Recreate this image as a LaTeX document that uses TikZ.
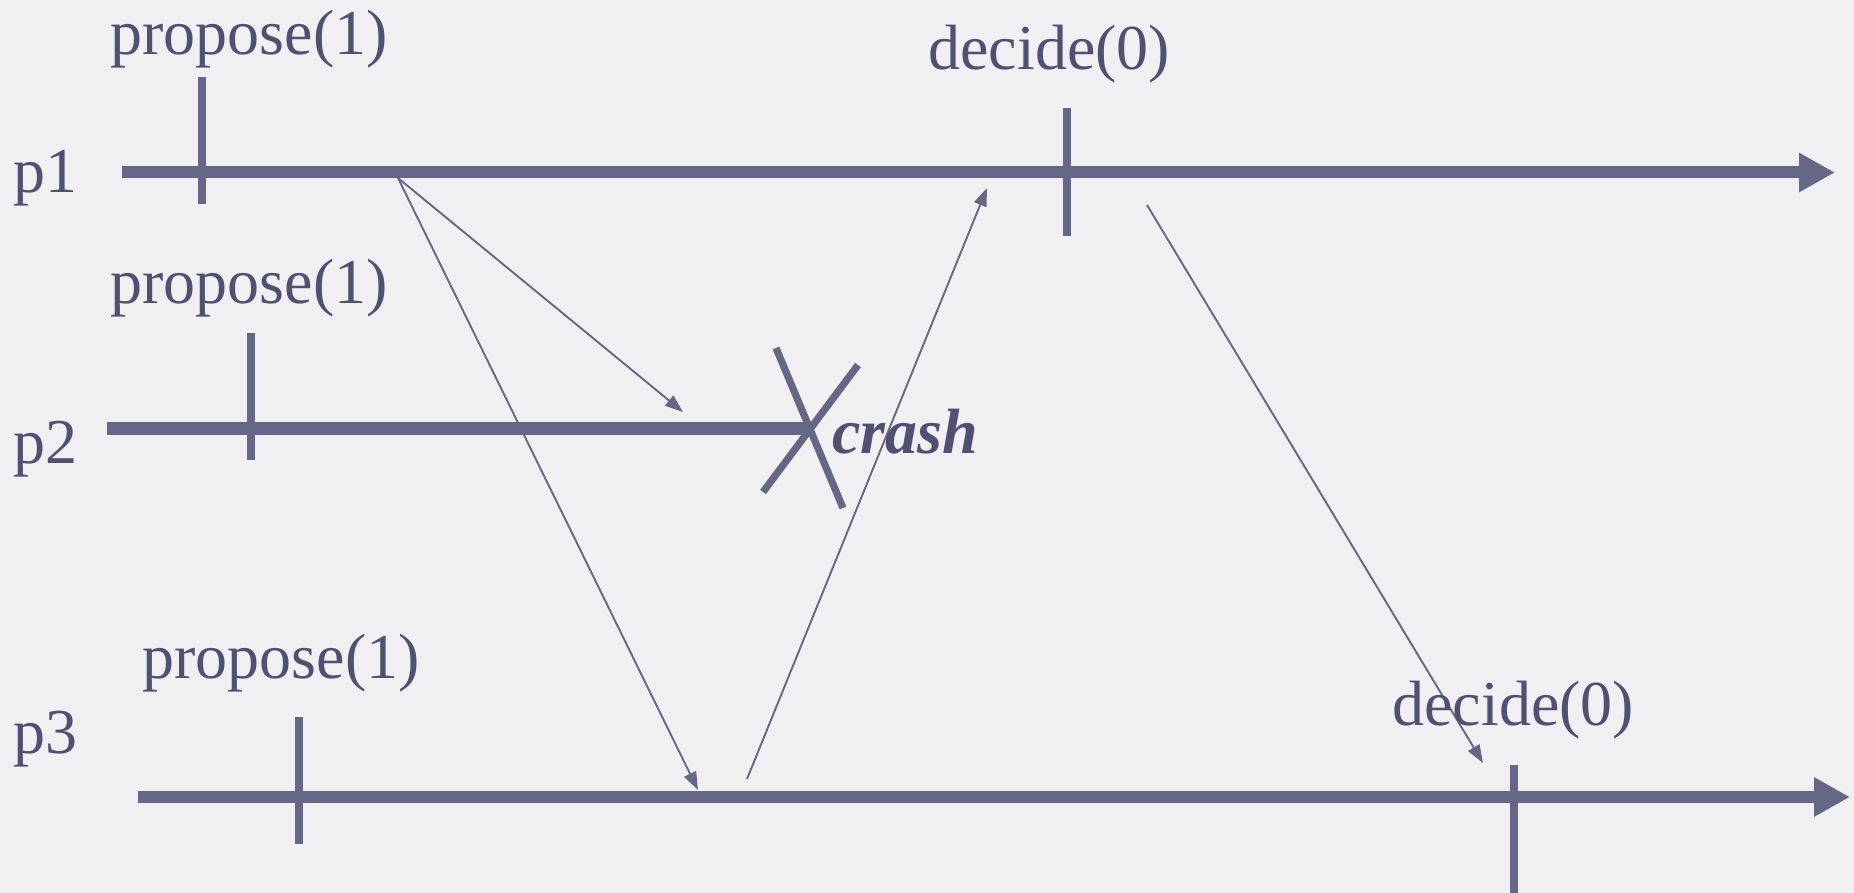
\documentclass[tikz,border=0pt]{standalone}
\usepackage{fontspec}
\setmainfont{Liberation Serif}
\usetikzlibrary{arrows.meta}
\definecolor{linec}{RGB}{102,102,134}
\definecolor{textc}{RGB}{80,80,114}
\definecolor{bgc}{RGB}{240,240,242}
\begin{document}
\begin{tikzpicture}[x=0.5pt,y=-0.5pt,
  lifeline/.style={line width=6pt, draw=linec},
  lifearrow/.style={lifeline, -{Triangle[length=18pt,width=18.5pt]}},
  tickmark/.style={line width=3.9pt, draw=linec},
  crashmark/.style={line width=3.6pt, draw=linec},
  msg/.style={line width=0.95pt, draw=linec, -{Triangle[length=9pt,width=6.5pt]}},
  lbl/.style={anchor=base west, inner sep=0pt, text=textc, font=\fontsize{32}{36}\selectfont}]
\fill[bgc] (0,0) rectangle (1854,893);
\useasboundingbox (0,0) rectangle (1854,893);

% lifelines
\coordinate (p1s) at (122,172.5);
\coordinate (p1e) at (1835,172.5);
\coordinate (p2s) at (107,428.5);
\coordinate (p2e) at (810,428.5);
\coordinate (p3s) at (138,797);
\coordinate (p3e) at (1850,797);
\draw[lifearrow] (p1s) -- (p1e);
\draw[lifeline] (p2s) -- (p2e);
\draw[lifearrow] (p3s) -- (p3e);

% ticks
\coordinate (t1a) at (202,77);   \coordinate (t1b) at (202,204);
\coordinate (t2a) at (251,333);  \coordinate (t2b) at (251,460);
\coordinate (t3a) at (299,717);  \coordinate (t3b) at (299,844);
\coordinate (d1a) at (1067,108); \coordinate (d1b) at (1067,236);
\coordinate (d3a) at (1514,765); \coordinate (d3b) at (1514,893);
\draw[tickmark] (t1a) -- (t1b);
\draw[tickmark] (t2a) -- (t2b);
\draw[tickmark] (t3a) -- (t3b);
\draw[tickmark] (d1a) -- (d1b);
\draw[tickmark] (d3a) -- (d3b);

% crash X
\coordinate (xa) at (776,348); \coordinate (xb) at (843,508);
\coordinate (xc) at (858,365); \coordinate (xd) at (763,492);
\draw[crashmark] (xa) -- (xb);
\draw[crashmark] (xc) -- (xd);

% messages
\coordinate (m1s) at (398,178);
\coordinate (m1t) at (683,412);
\coordinate (m2t) at (698,790);
\coordinate (m3s) at (747,779);
\coordinate (m3t) at (987,188);
\coordinate (m4s) at (1147,205);
\coordinate (m4t) at (1483,763);
\draw[msg] (m1s) -- (m1t);
\draw[msg] (m1s) -- (m2t);
\draw[msg] (m3s) -- (m3t);
\draw[msg] (m4s) -- (m4t);

% labels
\node[lbl] (lp1) at (13,193) {p1};
\node[lbl] (lp2) at (13,463) {p2};
\node[lbl] (lp3) at (13,753) {p3};
\node[lbl] (pr1) at (110,55) {propose(1)};
\node[lbl] (pr2) at (110,304) {propose(1)};
\node[lbl] (pr3) at (142,678) {propose(1)};
\node[lbl] (de1) at (928,70) {decide(0)};
\node[lbl] (de3) at (1392,725) {decide(0)};
\node[lbl, font=\fontsize{32}{36}\selectfont\bfseries\itshape] (cr) at (832,453) {crash};
\end{tikzpicture}
\end{document}
